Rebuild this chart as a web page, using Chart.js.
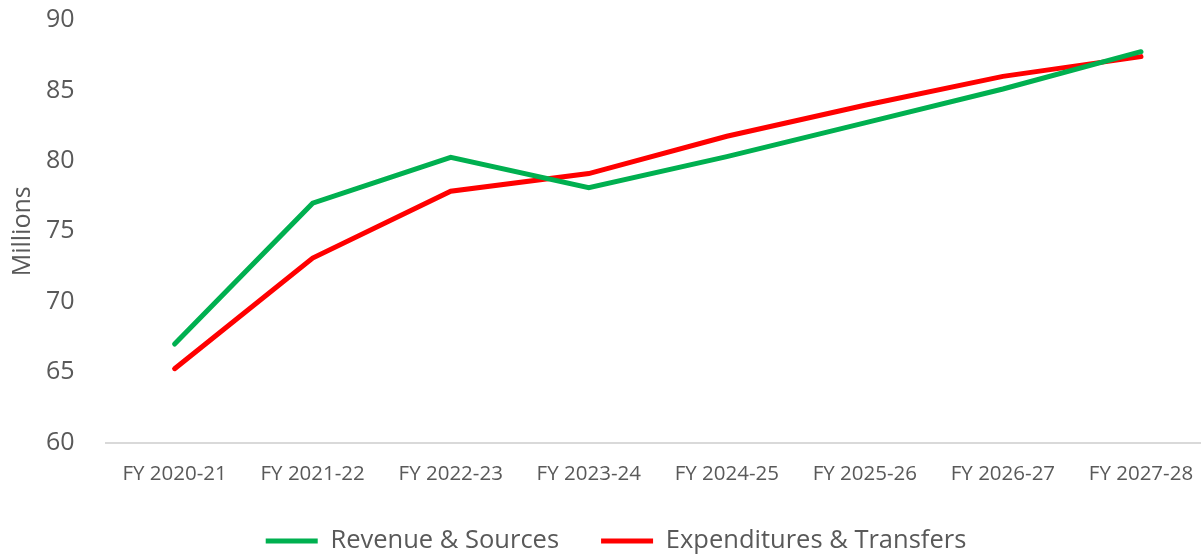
<!DOCTYPE html>
<html>
<head>
<meta charset="utf-8">
<script src="https://cdn.jsdelivr.net/npm/chart.js@4/dist/chart.umd.min.js"></script>
<style>
  html, body { margin: 0; padding: 0; background: #fff; overflow: hidden; }
  #wrap { width: 1210px; height: 554px; }
</style>
</head>
<body>
<div id="wrap"><canvas id="lineChart"></canvas></div>
<script>
const years = ['FY 2020-21', 'FY 2021-22', 'FY 2022-23', 'FY 2023-24', 'FY 2024-25', 'FY 2025-26', 'FY 2026-27', 'FY 2027-28'];
const revenue = [67.0, 77.0, 80.25, 78.1, 80.3, 82.7, 85.1, 87.75];
const expenditures = [65.25, 73.1, 77.85, 79.1, 81.75, 83.95, 86.0, 87.4];

const textColor = '#595959';
const font = "'Open Sans', 'Liberation Sans', sans-serif";

// nudge the legend a bit to the right, like the original
const legendShift = {
    id: 'legendShift',
    afterLayout: chart => {
        chart.legend.left += 10;
        chart.legend.right += 10;
    }
};

new Chart(document.getElementById('lineChart'), {
    type: 'line',
    data: {
        labels: years,
        datasets: [{
            label: 'Revenue & Sources',
            data: revenue,
            borderColor: '#00b050',
            backgroundColor: '#00b050',
            borderWidth: 5,
            borderCapStyle: 'round',
            pointStyle: 'line',
            pointRadius: 0,
            tension: 0
        }, {
            label: 'Expenditures & Transfers',
            data: expenditures,
            borderColor: '#ff0000',
            backgroundColor: '#ff0000',
            borderWidth: 5,
            borderCapStyle: 'round',
            pointStyle: 'line',
            pointRadius: 0,
            tension: 0
        }]
    },
    options: {
        responsive: true,
        maintainAspectRatio: false,
        animation: false,
        layout: { padding: { top: 20, right: 0, left: 2, bottom: -9.75 } },
        plugins: {
            tooltip: { enabled: false },
            legend: {
                position: 'bottom',
                labels: {
                    color: textColor,
                    font: { family: font, size: 25.5 },
                    usePointStyle: true,
                    pointStyleWidth: 52,
                    boxHeight: 6,
                    padding: 42
                }
            }
        },
        scales: {
            x: {
                offset: true,
                grid: { display: false, tickLength: 19 },
                border: { display: true, color: '#d9d9d9', width: 2 },
                ticks: {
                    color: textColor,
                    font: { family: font, size: 20.5 },
                    padding: 0,
                    maxRotation: 0
                }
            },
            y: {
                min: 60,
                max: 90,
                grid: { display: false, tickLength: 29 },
                border: { display: false },
                ticks: {
                    stepSize: 5,
                    color: textColor,
                    font: { family: font, size: 25 },
                    padding: 2
                },
                title: {
                    display: true,
                    text: 'Millions',
                    color: textColor,
                    font: { family: font, size: 25 },
                    padding: 6
                }
            }
        }
    },
    plugins: [legendShift]
});
</script>
</body>
</html>
